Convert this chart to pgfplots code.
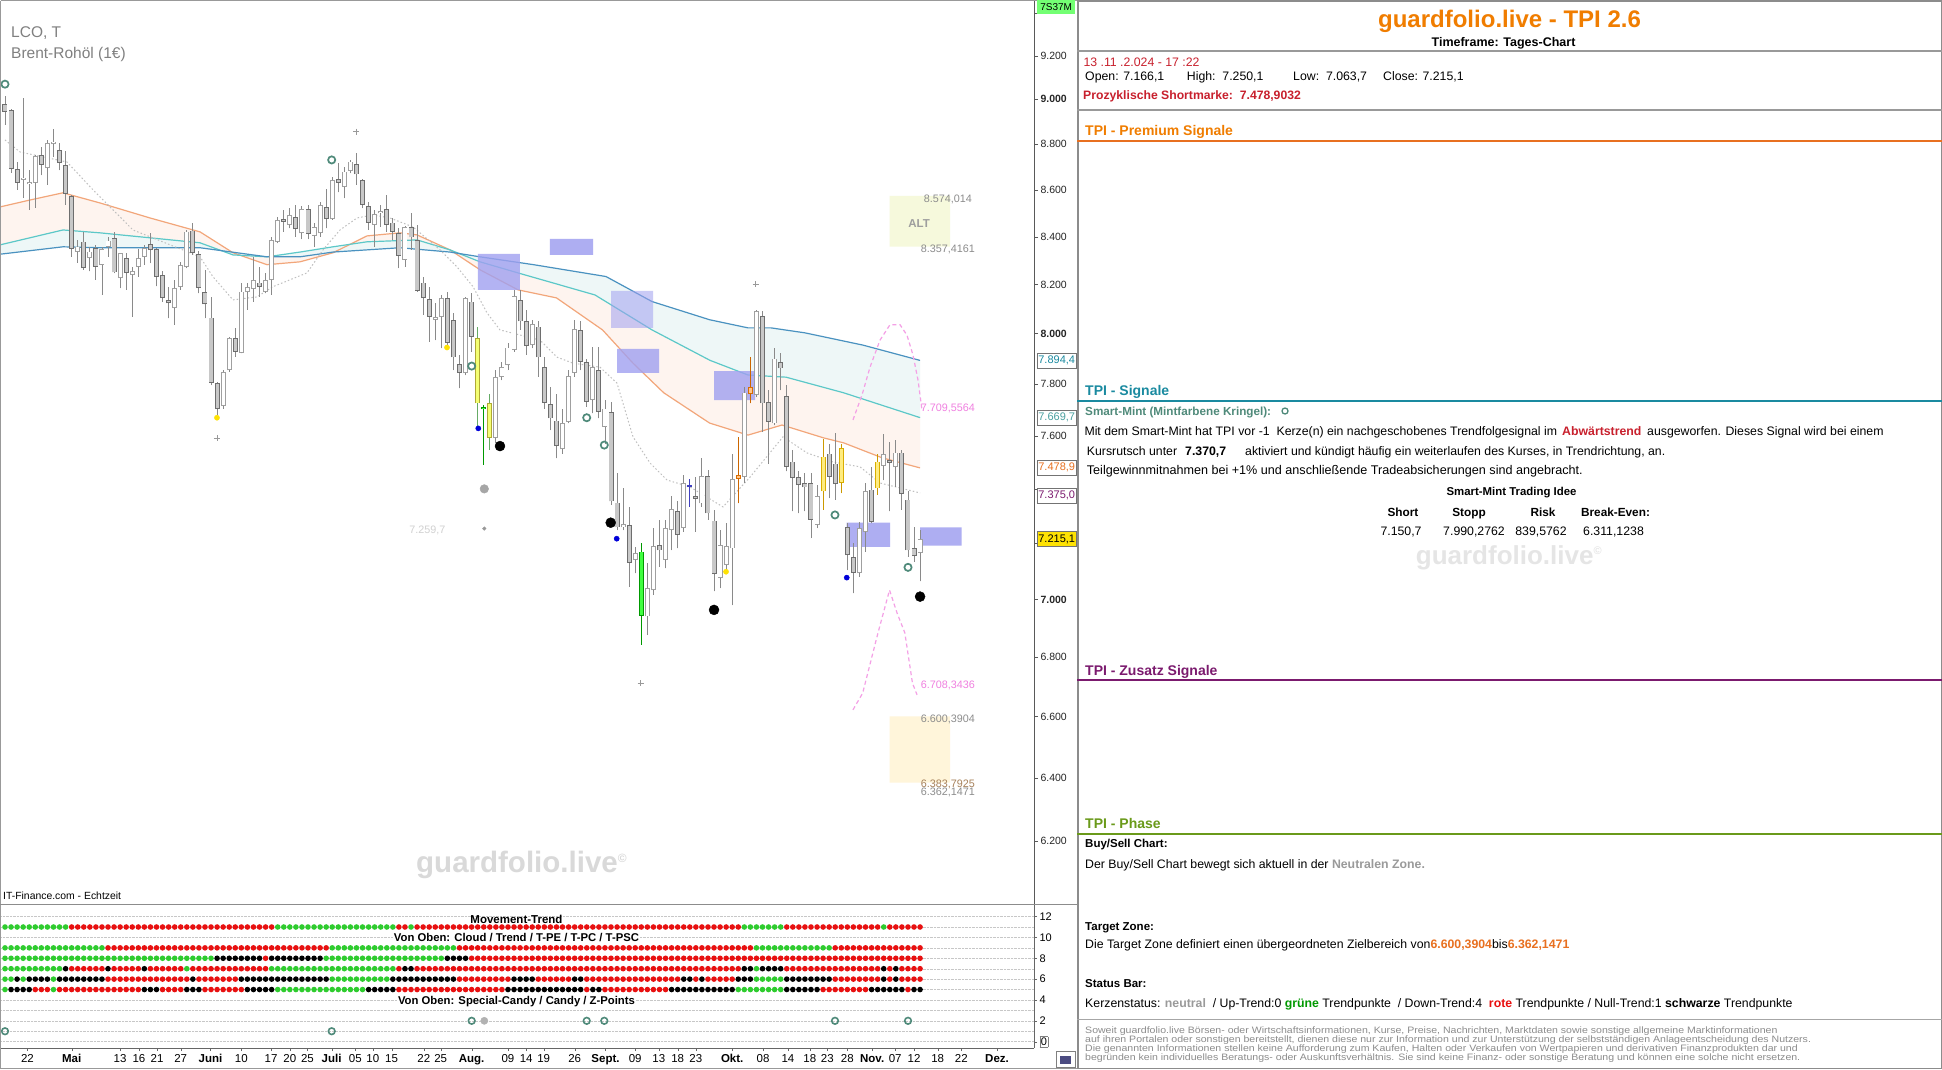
\documentclass[border=0pt]{standalone}
\usepackage{fontspec}
\setmainfont{Liberation Sans}
\usepackage{graphicx}
\usepackage{pgfplots}
\pgfplotsset{compat=1.18}
\usepackage{pgfplotstable}
\setlength{\fboxsep}{1pt}
\definecolor{cGreen}{HTML}{2ECC2E}
\definecolor{cRed}{HTML}{E81010}
\definecolor{maO}{HTML}{F2A67A}
\definecolor{maT}{HTML}{5CC8C8}
\definecolor{maB}{HTML}{4A92C0}
\definecolor{ofill}{HTML}{FEF4EF}
\definecolor{bfill}{HTML}{EEF7F7}
\definecolor{ring}{HTML}{4F8A7A}
\definecolor{zoneB}{HTML}{A0A0F0}
\definecolor{pinkD}{HTML}{F4A0E6}
\definecolor{pinkT}{HTML}{F080E0}
\definecolor{titleO}{HTML}{F07D00}
\definecolor{secT}{HTML}{1A8AA0}
\definecolor{secP}{HTML}{7B1A6E}
\definecolor{secG}{HTML}{6A9A1A}
\definecolor{redT}{HTML}{C8202D}
\definecolor{orT}{HTML}{E87020}
\definecolor{grT}{HTML}{9A9A9A}
\definecolor{wickG}{HTML}{8A8A8A}
\definecolor{edgeG}{HTML}{6E6E6E}
\definecolor{fillG}{HTML}{C8C8C8}
\definecolor{edgeH}{HTML}{A0A0A0}
\definecolor{altF}{HTML}{F6F9DC}
\definecolor{tzF}{HTML}{FFF5DA}
\newcommand{\fs}[1]{\fontsize{#1}{#1}\selectfont}
\newcommand{\txt}[4][]{\node[anchor=base west, inner sep=0pt, #1] at (#2pt,-#3pt) {#4};}
\newcommand{\ctxt}[4][]{\node[anchor=base, inner sep=0pt, #1] at (#2pt,-#3pt) {#4};}
\newcommand{\disc}[1]{\scalebox{1.135}[1]{\fs{9.3}#1}}

% ---------- candle data: i open high low close ----------
\pgfplotstableread{
i o h l c
0 8.979 9.015 8.885 8.945
1 8.950 8.955 8.673 8.690
2 8.690 8.723 8.600 8.631
6 8.752 8.789 8.664 8.708
9 8.774 8.804 8.686 8.718
10 8.708 8.767 8.535 8.582
11 8.574 8.578 8.316 8.347
13 8.379 8.421 8.261 8.268
15 8.351 8.365 8.219 8.274
18 8.393 8.421 8.247 8.250
20 8.309 8.333 8.178 8.247
24 8.368 8.417 8.289 8.343
25 8.347 8.351 8.192 8.233
26 8.240 8.254 8.130 8.144
27 8.137 8.191 8.062 8.123
31 8.425 8.459 8.323 8.330
32 8.327 8.341 8.164 8.185
33 8.168 8.261 8.062 8.119
34 8.065 8.150 7.797 7.806
35 7.804 7.810 7.680 7.702
38 7.984 8.022 7.908 7.928
42 8.208 8.274 8.150 8.189
46 8.474 8.514 8.421 8.462
48 8.482 8.535 8.400 8.431
50 8.517 8.535 8.389 8.410
53 8.525 8.603 8.435 8.474
55 8.646 8.718 8.589 8.631
58 8.712 8.760 8.621 8.667
59 8.643 8.646 8.521 8.535
60 8.531 8.549 8.428 8.459
63 8.517 8.578 8.421 8.450
64 8.459 8.478 8.386 8.421
65 8.414 8.435 8.268 8.319
67 8.440 8.500 8.344 8.397
68 8.386 8.450 8.171 8.175
69 8.208 8.233 8.076 8.144
70 8.140 8.191 7.968 8.069
73 8.144 8.171 7.942 7.964
74 8.056 8.083 7.856 7.906
75 7.879 7.915 7.784 7.845
77 8.130 8.164 7.928 7.988
85 8.137 8.178 8.015 8.049
86 8.049 8.096 7.915 7.951
88 8.028 8.049 7.829 7.906
89 7.869 7.908 7.706 7.728
90 7.722 7.790 7.622 7.667
91 7.658 7.764 7.515 7.561
95 8.015 8.049 7.856 7.888
96 7.886 7.901 7.712 7.732
98 7.856 7.948 7.667 7.693
100 7.693 7.731 7.341 7.353
101 7.349 7.458 7.248 7.258
103 7.267 7.334 7.045 7.131
108 7.194 7.285 7.116 7.174
111 7.316 7.353 7.182 7.231
114 7.375 7.446 7.242 7.364
116 7.448 7.470 7.285 7.309
117 7.283 7.322 7.028 7.090
125 8.072 8.090 7.616 7.725
126 7.731 7.777 7.495 7.654
128 7.888 7.922 7.777 7.862
129 7.754 7.797 7.465 7.483
130 7.502 7.546 7.316 7.440
131 7.443 7.465 7.310 7.414
132 7.421 7.458 7.316 7.406
133 7.421 7.461 7.219 7.285
136 7.533 7.571 7.366 7.446
137 7.495 7.612 7.359 7.417
139 7.258 7.273 7.104 7.157
140 7.150 7.200 7.022 7.094
143 7.398 7.483 7.273 7.279
146 7.508 7.577 7.316 7.498
148 7.536 7.546 7.322 7.381
149 7.361 7.390 7.152 7.174
150 7.182 7.261 7.134 7.154
}\cF
\pgfplotstableread{
i o h l c
3 8.643 9.006 8.565 8.653
4 8.624 8.686 8.514 8.635
5 8.631 8.752 8.522 8.748
7 8.694 8.818 8.621 8.804
8 8.800 8.866 8.745 8.811
12 8.337 8.386 8.290 8.358
14 8.309 8.358 8.254 8.337
16 8.281 8.358 8.157 8.347
17 8.358 8.400 8.316 8.383
19 8.226 8.332 8.185 8.330
21 8.240 8.274 8.069 8.254
22 8.274 8.347 8.233 8.309
23 8.316 8.365 8.281 8.351
28 8.103 8.219 8.036 8.185
29 8.191 8.295 8.178 8.281
30 8.274 8.428 8.268 8.421
36 7.715 7.856 7.706 7.849
37 7.856 7.988 7.849 7.982
39 7.924 8.206 7.922 8.171
40 8.168 8.208 8.096 8.189
41 8.182 8.316 8.130 8.219
43 8.171 8.247 8.164 8.219
44 8.219 8.400 8.157 8.386
45 8.379 8.485 8.372 8.471
47 8.450 8.521 8.435 8.492
49 8.414 8.528 8.389 8.517
51 8.404 8.457 8.358 8.440
52 8.414 8.549 8.400 8.535
54 8.474 8.657 8.471 8.643
56 8.614 8.701 8.564 8.679
57 8.683 8.730 8.672 8.723
61 8.450 8.514 8.358 8.496
62 8.499 8.535 8.442 8.506
66 8.302 8.446 8.274 8.440
71 8.056 8.123 7.975 8.067
72 8.069 8.157 7.942 8.144
76 7.843 8.150 7.836 8.144
81 7.594 7.858 7.572 7.827
82 7.829 7.888 7.816 7.869
83 7.876 7.962 7.856 7.946
84 7.935 8.178 7.928 8.153
87 7.955 8.056 7.942 8.038
92 7.549 7.706 7.533 7.650
93 7.654 7.856 7.648 7.832
94 7.845 8.056 7.829 8.017
97 7.738 7.948 7.687 7.866
99 7.635 7.738 7.571 7.706
102 7.258 7.402 7.248 7.269
104 7.140 7.188 7.092 7.166
106 6.940 7.128 6.876 7.039
107 7.033 7.255 7.016 7.191
109 7.140 7.285 7.110 7.255
110 7.248 7.372 7.176 7.325
112 7.255 7.452 7.242 7.421
115 7.346 7.515 7.334 7.448
118 7.075 7.248 7.040 7.194
119 7.122 7.273 7.092 7.191
120 7.182 7.533 6.980 7.436
122 7.445 7.790 7.421 7.767
124 7.758 8.096 7.751 8.090
127 7.648 7.942 7.641 7.901
134 7.267 7.414 7.255 7.372
141 7.092 7.279 7.080 7.255
142 7.242 7.421 7.170 7.393
145 7.486 7.609 7.433 7.530
147 7.481 7.584 7.408 7.536
151 7.166 7.250 7.064 7.215
}\cH
\pgfplotstableread{
i o h l c
78 7.982 8.028 7.635 7.725
80 7.725 7.764 7.547 7.594
}\cYG
\pgfplotstableread{
i o h l c
79 7.710 7.720 7.490 7.703
105 7.170 7.200 6.842 6.942
}\cG
\pgfplotstableread{
i o h l c
121 7.439 7.597 7.346 7.452
123 7.764 7.908 7.725 7.790
}\cO
\pgfplotstableread{
i o h l c
135 7.390 7.590 7.322 7.521
138 7.422 7.571 7.384 7.552
144 7.402 7.533 7.378 7.502
}\cY
\pgfplotstableread{
i o h l c
113 7.406 7.439 7.334 7.410
}\cB
% ---------- moving averages ----------
\pgfplotstableread{
x y
-0.83 8.326
9.57 8.357
15.68 8.353
32.18 8.353
43.23 8.315
48.68 8.315
54.13 8.335
65.18 8.353
73.43 8.335
78.38 8.315
87.23 8.282
99.17 8.233
106.77 8.130
116.27 8.056
122.61 8.023
126.4 8.023
132.01 8.003
141.58 7.955
151 7.894
}\maBlue
\pgfplotstableread{
x y
-0.83 8.365
9.57 8.428
15.68 8.416
23.93 8.395
32.18 8.374
37.62 8.323
43.23 8.315
48.68 8.335
54.13 8.357
59.74 8.378
67.99 8.386
73.43 8.344
78.38 8.294
84.65 8.248
97.36 8.157
106.77 8.015
116.34 7.895
122.61 7.836
128.88 7.828
138.38 7.766
151 7.670
}\maTeal
\pgfplotstableread{
x y
-0.83 8.526
4.13 8.556
9.57 8.587
15.68 8.543
23.93 8.479
32.18 8.420
37.62 8.332
43.23 8.282
48.68 8.294
54.13 8.332
59.74 8.403
65.18 8.416
67.99 8.407
73.43 8.344
78.38 8.261
84.65 8.178
91.0 8.145
98.6 8.015
103.63 7.883
108.7 7.766
116.27 7.649
122.61 7.603
128.22 7.642
135.15 7.592
138.38 7.573
144.72 7.516
151 7.479
}\maOrange
% cloud areas: one line forward, the other line backward
\pgfplotstableread{
x y
-0.83 8.526
4.13 8.556
9.57 8.587
15.68 8.543
23.93 8.479
32.18 8.420
37.62 8.332
43.23 8.282
48.68 8.294
54.13 8.332
59.74 8.403
65.18 8.416
67.99 8.407
73.43 8.344
78.38 8.261
84.65 8.178
91.0 8.145
98.6 8.015
103.63 7.883
108.7 7.766
116.27 7.649
122.61 7.603
128.22 7.642
135.15 7.592
138.38 7.573
144.72 7.516
151 7.479
151 7.670
138.38 7.766
128.88 7.828
122.61 7.836
116.34 7.895
106.77 8.015
97.36 8.157
84.65 8.248
78.38 8.294
73.43 8.344
67.99 8.386
59.74 8.378
54.13 8.357
48.68 8.335
43.23 8.315
37.62 8.323
32.18 8.374
23.93 8.395
15.68 8.416
9.57 8.428
-0.83 8.365
}\cloudOT
\pgfplotstableread{
x y
-0.83 8.365
9.57 8.428
15.68 8.416
23.93 8.395
32.18 8.374
37.62 8.323
43.23 8.315
48.68 8.335
54.13 8.357
59.74 8.378
67.99 8.386
73.43 8.344
78.38 8.294
84.65 8.248
97.36 8.157
106.77 8.015
116.34 7.895
122.61 7.836
128.88 7.828
138.38 7.766
151 7.670
151 7.894
141.58 7.955
132.01 8.003
126.4 8.023
122.61 8.023
116.27 8.056
106.77 8.130
99.17 8.233
87.23 8.282
78.38 8.315
73.43 8.335
65.18 8.353
54.13 8.335
48.68 8.315
43.23 8.315
32.18 8.353
15.68 8.353
9.57 8.357
-0.83 8.326
}\cloudTB
\pgfplotstableread{
x y
0 8.818
2.48 8.765
10.23 8.721
14.52 8.600
17.33 8.526
21.12 8.428
32.18 8.315
34.32 8.232
37.62 8.137
41.58 8.149
44.22 8.191
49.83 8.248
52.48 8.344
55.28 8.428
58.09 8.479
60.73 8.492
63.53 8.479
67.33 8.441
71.78 8.344
74.59 8.273
77.23 8.191
79.54 8.084
81.68 8.015
88.28 7.975
91.09 7.907
93.73 7.883
98.18 7.868
100.99 7.805
103.63 7.596
106.44 7.497
109.24 7.433
113.04 7.407
118.48 7.333
122.94 7.444
128.38 7.596
132.34 7.535
136.63 7.501
141.09 7.482
144.39 7.422
151 7.385
}\sigL
\pgfplotstableread{
x y
139.93 7.661
141.42 7.758
142.74 7.868
144.39 7.975
146.04 8.036
147.69 8.036
148.84 7.995
149.83 7.915
150.66 7.816
151.32 7.699
}\pkU
\pgfplotstableread{
x y
139.93 6.622
141.53 6.678
144.06 6.883
145.96 7.033
147.19 6.953
148.48 6.883
149.75 6.711
150.5 6.672
}\pkL

\pgfplotsset{candlebase/.style={forget plot, only marks, mark=*, mark size=0pt, mark options={draw=none, fill=none}}}
\newcommand{\candles}[4]{%
\addplot[candlebase, error bars/.cd, y dir=plus, y explicit, error mark=none,
  error bar style={draw=#2, line width=0.9pt}]
  table[x=i, y=l, y error plus expr={\thisrow{h}-\thisrow{l}}] {#1};
\addplot[candlebase, error bars/.cd, y dir=plus, y explicit, error mark=none,
  error bar style={draw=#3, line width=5pt}]
  table[x=i, y expr={min(\thisrow{o},\thisrow{c})}, y error plus expr={max(abs(\thisrow{o}-\thisrow{c}),0.008)}] {#1};
\addplot[candlebase, error bars/.cd, y dir=plus, y explicit, error mark=none,
  error bar style={draw=#4, line width=3.2pt, shorten <=0.8pt, shorten >=0.8pt}]
  table[x=i, y expr={min(\thisrow{o},\thisrow{c})}, y error plus expr={max(abs(\thisrow{o}-\thisrow{c}),0.008)}] {#1};
}
\pgfplotsset{dotrow/.style={forget plot, mark=none, line width=5.6pt, line cap=round,
  dash pattern=on 0pt off 6.0601pt, unbounded coords=jump}}

\begin{document}
\begin{tikzpicture}
\useasboundingbox (0pt,0pt) rectangle (1942pt,-1069pt);
\fill[white] (0pt,0pt) rectangle (1942pt,-1069pt);

% ================= PRICE AXIS =================
\begin{axis}[
  at={(0pt,-904pt)}, anchor=south west, scale only axis,
  width=1034pt, height=904pt,
  xmin=-0.825, xmax=169.8, ymode=log, ymin=6.006, ymax=9.461,
  hide x axis, axis y line*=right,
  y axis line style={draw=black!65, line width=0.8pt},
  ytick={6.2,6.4,6.6,6.8,7.0,7.2,7.4,7.6,7.8,8.0,8.2,8.4,8.6,8.8,9.0,9.2,9.4},
  yticklabels={6.200,6.400,6.600,6.800,\textbf{7.000},{},{},7.600,7.800,\textbf{8.000},8.200,8.400,8.600,8.800,\textbf{9.000},9.200,{}},
  tick align=outside, major tick length=4pt,
  ytick style={draw=black!65},
  yticklabel style={font=\fs{10.5}, text=black!85, xshift=-1pt},
  clip=false,
]
% zones
\addplot[forget plot, draw=none, fill=altF] coordinates {(145.96,8.574)(155.94,8.574)(155.94,8.3574)(145.96,8.3574)(145.96,8.574)};
\addplot[forget plot, draw=none, fill=tzF] coordinates {(145.96,6.6004)(155.94,6.6004)(155.94,6.3838)(145.96,6.3838)(145.96,6.6004)};
% MA clouds
\addplot[forget plot, draw=none, fill=ofill] table {\cloudOT};
\addplot[forget plot, draw=none, fill=bfill] table {\cloudTB};
\addplot[forget plot, maO, line width=1.2pt, mark=none] table {\maOrange};
\addplot[forget plot, maT, line width=1.2pt, mark=none] table {\maTeal};
\addplot[forget plot, maB, line width=1.2pt, mark=none] table {\maBlue};
\addplot[forget plot, black!25, line width=1pt, dash pattern=on 1.5pt off 2.2pt, mark=none] table {\sigL};
% blue zones
\addplot[forget plot, draw=none, fill=zoneB, fill opacity=0.8] coordinates {(78.05,8.3274)(84.98,8.3274)(84.98,8.1779)(78.05,8.1779)(78.05,8.3274)};
\addplot[forget plot, draw=none, fill=zoneB, fill opacity=0.85] coordinates {(89.93,8.3903)(97.03,8.3903)(97.03,8.3232)(89.93,8.3232)(89.93,8.3903)};
\addplot[forget plot, draw=none, fill=zoneB, fill opacity=0.55] coordinates {(100.0,8.1738)(106.93,8.1738)(106.93,8.0234)(100.0,8.0234)(100.0,8.1738)};
\addplot[forget plot, draw=none, fill=zoneB, fill opacity=0.8] coordinates {(100.99,7.9390)(107.92,7.9390)(107.92,7.8439)(100.99,7.8439)(100.99,7.9390)};
\addplot[forget plot, draw=none, fill=zoneB, fill opacity=0.8] coordinates {(117.0,7.8518)(123.76,7.8518)(123.76,7.7381)(117.0,7.7381)(117.0,7.8518)};
\addplot[forget plot, draw=none, fill=zoneB, fill opacity=0.85] coordinates {(138.89,7.2753)(146.04,7.2753)(146.04,7.1881)(138.89,7.1881)(138.89,7.2753)};
\addplot[forget plot, draw=none, fill=zoneB, fill opacity=0.85] coordinates {(150.99,7.2586)(157.87,7.2586)(157.87,7.1917)(150.99,7.1917)(150.99,7.2586)};
% candles
\candles{\cF}{wickG}{edgeG}{fillG}
\candles{\cH}{wickG}{edgeH}{white}
\candles{\cYG}{green!45!black!60}{olive!70}{lime!30!yellow!55!white}
\candles{\cG}{green!60!black}{green!60!black}{green!75!white}
\candles{\cO}{orange!80!black}{orange!85!black}{orange!45!white}
\candles{\cY}{orange!50!yellow!80!black}{orange!40!yellow!85!black}{orange!30!yellow!50!white}
\candles{\cB}{blue!50!gray}{blue!50!gray}{blue!50!gray}
% forecast
\addplot[forget plot, pinkD, line width=1.2pt, dash pattern=on 4pt off 3pt, mark=none] table {\pkU};
\addplot[forget plot, pinkD, line width=1.2pt, dash pattern=on 4pt off 3pt, mark=none] table {\pkL};
% markers
\addplot[forget plot, only marks, mark=o, mark size=3.6pt, mark options={draw=ring, line width=1.7pt}] coordinates {(0,9.069)(53.91,8.730)(77.01,7.8715)(95.99,7.6696)(98.89,7.5651)(136.96,7.3036)(149.01,7.1141)};
\addplot[forget plot, only marks, mark=*, mark size=5pt, black] coordinates {(81.68,7.5613)(99.95,7.2753)(117.0,6.9630)(151,7.0097)};
\addplot[forget plot, only marks, mark=*, mark size=2.6pt, mark options={fill=blue!85!black, draw=blue!85!black}] coordinates {(78.1,7.6289)(100.94,7.2170)(138.9,7.0769)};
\addplot[forget plot, only marks, mark=*, mark size=2.6pt, mark options={fill=yellow!85!orange, draw=yellow!85!orange}] coordinates {(34.98,7.6696)(72.94,7.9459)(118.98,7.0984)};
\addplot[forget plot, only marks, mark=*, mark size=4.3pt, mark options={fill=black!35, draw=black!35}] coordinates {(79.09,7.3997)};
\addplot[forget plot, only marks, mark=*, mark size=1.8pt, mark options={fill=black!40, draw=black!40}] coordinates {(79.09,7.2542)};
\addplot[forget plot, only marks, mark=+, mark size=3pt, mark options={draw=black!40, line width=0.8pt}] coordinates {(34.98,7.5906)(57.92,8.8553)(123.86,8.2015)(104.9,6.7109)};
% chart labels
\node[font=\fs{10.8}, text=black!18] at (axis cs:69.7,7.2487) {7.259,7};
\node[font=\fs{11.5}, text=black!38] at (axis cs:150.83,8.4539) {\textbf{ALT}};
\node[font=\fs{10.8}, text=black!45] at (axis cs:155.6,8.5594) {8.574,014};
\node[font=\fs{10.8}, text=black!45] at (axis cs:155.6,8.344) {8.357,4161};
\node[font=\fs{10.8}, text=pinkT] at (axis cs:155.6,7.7044) {7.709,5564};
\node[font=\fs{10.8}, text=pinkT] at (axis cs:155.6,6.7018) {6.708,3436};
\node[font=\fs{10.8}, text=black!45] at (axis cs:155.6,6.5905) {6.600,3904};
\node[font=\fs{10.8}, text=brown!60!gray] at (axis cs:155.6,6.3769) {6.383,7925};
\node[font=\fs{10.8}, text=black!45] at (axis cs:155.6,6.3521) {6.362,1471};
% right value boxes
\node[draw=black!55, fill=white, anchor=west, xshift=3pt, minimum width=39pt, minimum height=15pt, inner sep=1pt, font=\fs{11}, text=secT] at (axis cs:169.8,7.8944) {7.894,4};
\node[draw=black!55, fill=white, anchor=west, xshift=3pt, minimum width=39pt, minimum height=15pt, inner sep=1pt, font=\fs{11}, text=maT!80!black] at (axis cs:169.8,7.6697) {7.669,7};
\node[draw=black!55, fill=white, anchor=west, xshift=3pt, minimum width=39pt, minimum height=15pt, inner sep=1pt, font=\fs{11}, text=orT] at (axis cs:169.8,7.4789) {7.478,9};
\node[draw=black!55, fill=white, anchor=west, xshift=3pt, minimum width=39pt, minimum height=15pt, inner sep=1pt, font=\fs{11}, text=secP] at (axis cs:169.8,7.3750) {7.375,0};
\node[draw=black!55, fill=yellow!85!orange, anchor=west, xshift=3pt, minimum width=39pt, minimum height=15pt, inner sep=1pt, font=\fs{11}] at (axis cs:169.8,7.2151) {7.215,1};
\end{axis}

% ================= MOVEMENT PANEL =================
\begin{axis}[
  at={(0pt,-1048pt)}, anchor=south west, scale only axis,
  width=1034pt, height=143pt,
  xmin=-0.825, xmax=169.8, ymin=-0.61, ymax=13.11,
  axis y line*=right, axis x line*=bottom,
  axis line style={draw=black!60, line width=0.8pt},
  ytick={0,2,4,6,8,10,12},
  yticklabels={\fcolorbox{black!50}{white}{0},2,4,6,8,10,12},
  minor y tick num=1, minor tick length=0pt,
  ymajorgrids, yminorgrids, grid style={black!22, densely dotted},
  xtick={3.7,11,19,22.1,25.1,29,33.9,39,43.9,47,49.9,53.9,57.8,60.7,63.8,69.1,71.9,77,83,86,88.9,94,99.1,104,107.9,111,114,120,125.1,129.2,132.8,135.7,139,143.1,146.9,150,153.9,157.8,163.7},
  xticklabels={22,\textbf{Mai},13,16,21,27,\textbf{Juni},10,17,20,25,\textbf{Juli},05,10,15,22,25,\textbf{Aug.},09,14,19,26,\textbf{Sept.},09,13,18,23,\textbf{Okt.},08,14,18,23,28,\textbf{Nov.},07,12,18,22,\textbf{Dez.}},
  tick align=outside, major tick length=3pt, tick style={draw=black!60},
  xticklabel style={font=\fs{11.5}},
  yticklabel style={font=\fs{11}, xshift=-1pt},
  clip=false,
]
% Movement-Trend row (11)
\addplot[dotrow, cGreen] coordinates {(0,11)(10.05,11)(nan,nan)(45,11)(64.05,11)(nan,nan)(67,11)(67.05,11)(nan,nan)(122,11)(128.05,11)(nan,nan)(145,11)(145.05,11)};
\addplot[dotrow, cRed] coordinates {(11,11)(44.05,11)(nan,nan)(65,11)(66.05,11)(nan,nan)(68,11)(121.05,11)(nan,nan)(129,11)(144.05,11)(nan,nan)(146,11)(151.05,11)};
% Cloud row (9)
\addplot[dotrow, cGreen] coordinates {(0,9)(16.05,9)(nan,nan)(54,9)(74.05,9)(nan,nan)(124,9)(136.05,9)};
\addplot[dotrow, cRed] coordinates {(17,9)(53.05,9)(nan,nan)(75,9)(123.05,9)(nan,nan)(137,9)(151.05,9)};
% Trend row (8)
\addplot[dotrow, cGreen] coordinates {(0,8)(34.05,8)(nan,nan)(53,8)(72.05,8)};
\addplot[dotrow, black] coordinates {(35,8)(42.05,8)(nan,nan)(44,8)(52.05,8)(nan,nan)(73,8)(76.05,8)};
\addplot[dotrow, cRed] coordinates {(43,8)(43.05,8)(nan,nan)(77,8)(151.05,8)};
% T-PE row (7)
\addplot[dotrow, cGreen] coordinates {(0,7)(9.05,7)(nan,nan)(30,7)(30.05,7)(nan,nan)(44,7)(64.05,7)(nan,nan)(124,7)(124.05,7)};
\addplot[dotrow, black] coordinates {(10,7)(10.05,7)(nan,nan)(17,7)(17.05,7)(nan,nan)(23,7)(23.05,7)(nan,nan)(66,7)(67.05,7)(nan,nan)(122,7)(123.05,7)(nan,nan)(125,7)(128.05,7)(nan,nan)(145,7)(145.05,7)(nan,nan)(147,7)(147.05,7)};
\addplot[dotrow, cRed] coordinates {(11,7)(16.05,7)(nan,nan)(18,7)(22.05,7)(nan,nan)(24,7)(29.05,7)(nan,nan)(31,7)(43.05,7)(nan,nan)(65,7)(65.05,7)(nan,nan)(68,7)(121.05,7)(nan,nan)(129,7)(144.05,7)(nan,nan)(146,7)(146.05,7)(nan,nan)(148,7)(151.05,7)};
% T-PC row (6)
\addplot[dotrow, cGreen] coordinates {(0,6)(1.05,6)(nan,nan)(3,6)(3.05,6)(nan,nan)(8,6)(8.05,6)(nan,nan)(54,6)(63.05,6)(nan,nan)(124,6)(128.05,6)};
\addplot[dotrow, black] coordinates {(2,6)(2.05,6)(nan,nan)(4,6)(7.05,6)(nan,nan)(9,6)(16.05,6)(nan,nan)(31,6)(31.05,6)(nan,nan)(39,6)(53.05,6)(nan,nan)(64,6)(74.05,6)(nan,nan)(84,6)(87.05,6)(nan,nan)(94,6)(95.05,6)(nan,nan)(112,6)(113.05,6)(nan,nan)(115,6)(115.05,6)(nan,nan)(121,6)(123.05,6)(nan,nan)(129,6)(136.05,6)(nan,nan)(145,6)(145.05,6)(nan,nan)(147,6)(147.05,6)};
\addplot[dotrow, cRed] coordinates {(17,6)(30.05,6)(nan,nan)(32,6)(38.05,6)(nan,nan)(75,6)(83.05,6)(nan,nan)(88,6)(93.05,6)(nan,nan)(96,6)(111.05,6)(nan,nan)(114,6)(114.05,6)(nan,nan)(116,6)(120.05,6)(nan,nan)(137,6)(144.05,6)(nan,nan)(146,6)(146.05,6)(nan,nan)(148,6)(151.05,6)};
% T-PSC row (5)
\addplot[dotrow, cGreen] coordinates {(0,5)(0.05,5)(nan,nan)(8,5)(8.05,5)(nan,nan)(45,5)(59.05,5)(nan,nan)(121,5)(128.05,5)};
\addplot[dotrow, black] coordinates {(1,5)(4.05,5)(nan,nan)(23,5)(25.05,5)(nan,nan)(30,5)(32.05,5)(nan,nan)(40,5)(44.05,5)(nan,nan)(60,5)(64.05,5)(nan,nan)(83,5)(95.05,5)(nan,nan)(97,5)(98.05,5)(nan,nan)(110,5)(120.05,5)(nan,nan)(129,5)(134.05,5)(nan,nan)(143,5)(148.05,5)(nan,nan)(150,5)(151.05,5)};
\addplot[dotrow, cRed] coordinates {(5,5)(7.05,5)(nan,nan)(9,5)(22.05,5)(nan,nan)(26,5)(29.05,5)(nan,nan)(33,5)(39.05,5)(nan,nan)(65,5)(82.05,5)(nan,nan)(96,5)(96.05,5)(nan,nan)(99,5)(109.05,5)(nan,nan)(135,5)(142.05,5)(nan,nan)(149,5)(149.05,5)};
% circles
\addplot[forget plot, only marks, mark=o, mark size=3.3pt, mark options={draw=ring, line width=1.6pt}] coordinates {(77.01,2)(95.99,2)(98.89,2)(136.96,2)(149.01,2)(0,1)(53.91,1)};
\addplot[forget plot, only marks, mark=*, mark size=3.6pt, mark options={fill=black!30, draw=black!30}] coordinates {(79.09,2)};
\node[font=\bfseries\fs{11.5}] at (axis cs:84.4,11.75) {Movement-Trend};
\node[font=\bfseries\fs{11.3}, fill=white, inner sep=1pt] at (axis cs:84.4,9.95) {Von Oben: Cloud / Trend / T-PE / T-PC / T-PSC};
\node[font=\bfseries\fs{11.3}, fill=white, inner sep=1pt] at (axis cs:84.4,3.85) {Von Oben: Special-Candy / Candy / Z-Points};
\end{axis}

% ================= frames & left texts =================
\draw[black!40, line width=1pt] (0.5pt,-0.5pt) -- (1077pt,-0.5pt);
\draw[black!40, line width=1pt] (0.5pt,-0.5pt) -- (0.5pt,-1068.5pt) -- (1077pt,-1068.5pt);
\draw[black!45, line width=1pt] (0pt,-904.5pt) -- (1077pt,-904.5pt);
\node[fill=green!55!white, anchor=north west, minimum width=38pt, minimum height=14pt, inner sep=1pt, font=\fs{10}] at (1037pt,0pt) {7S37M};
\txt[text=black!50, font=\fs{15.5}]{11}{37}{LCO, T}
\txt[text=black!50, font=\fs{15.5}]{11}{58}{Brent-Rohöl (1€)}
\txt[text=black!15, font=\bfseries\fs{29.5}]{416}{872}{guardfolio.live\textsuperscript{\fs{12}©}}
\txt[font=\fs{10.4}]{3}{899}{IT-Finance.com - Echtzeit}
\draw[black!50] (1056pt,-1051pt) rectangle (1075pt,-1067pt);
\fill[blue!30!black!70] (1060pt,-1056pt) rectangle (1071pt,-1064pt);

% ================= RIGHT PANEL =================
\draw[black!45, line width=1.5pt] (1077.75pt,-0.75pt) rectangle (1941.25pt,-1068.25pt);
\ctxt[text=titleO, font=\bfseries\fs{24}]{1509.5}{27}{guardfolio.live - TPI 2.6}
\ctxt[font=\bfseries\fs{12.5}]{1503.5}{46.5}{Timeframe: Tages-Chart}
\draw[black!40, line width=1.2pt] (1077pt,-51pt) -- (1942pt,-51pt);
\txt[text=redT, font=\fs{12.3}]{1083.3}{66}{13 .11 .2.024 - 17 :22}
\txt[font=\fs{12.3}]{1085}{80.3}{Open: 7.166,1}
\txt[font=\fs{12.3}]{1186.7}{80.3}{High:\ \ 7.250,1}
\txt[font=\fs{12.3}]{1293}{80.3}{Low:\ \ 7.063,7}
\txt[font=\fs{12.3}]{1383}{80.3}{Close: 7.215,1}
\txt[text=redT, font=\bfseries\fs{12.2}]{1083}{99}{Prozyklische Shortmarke:\ \ 7.478,9032}
\draw[black!40, line width=1.2pt] (1077pt,-110pt) -- (1942pt,-110pt);
\txt[text=titleO, font=\bfseries\fs{14}]{1085}{135.5}{TPI - Premium Signale}
\draw[orT, line width=2pt] (1077pt,-141pt) -- (1942pt,-141pt);
\txt[text=secT, font=\bfseries\fs{14}]{1085}{395.5}{TPI - Signale}
\draw[secT, line width=2pt] (1077pt,-400.7pt) -- (1942pt,-400.7pt);
\txt[text=ring, font=\bfseries\fs{11.7}]{1085}{415}{Smart-Mint (Mintfarbene Kringel):}
\draw[ring, line width=1.3pt] (1285pt,-411pt) circle (3pt);
\txt[font=\fs{12.3}]{1084.3}{435.5}{Mit dem Smart-Mint hat TPI vor -1\ \ Kerze(n) ein nachgeschobenes Trendfolgesignal im}
\txt[text=redT, font=\bfseries\fs{12.3}]{1562}{435.5}{Abwärtstrend}
\txt[font=\fs{12.3}]{1647}{435.5}{ausgeworfen. Dieses Signal wird bei einem}
\txt[font=\fs{12.3}]{1086.7}{455}{Kursrutsch unter}
\txt[font=\bfseries\fs{12.3}]{1185}{455}{7.370,7}
\txt[font=\fs{12.3}]{1245}{455}{aktiviert und kündigt häufig ein weiterlaufen des Kurses, in Trendrichtung, an.}
\txt[font=\fs{12.6}]{1086.7}{474.5}{Teilgewinnmitnahmen bei +1\% und anschließende Tradeabsicherungen sind angebracht.}
\ctxt[text=black!10, font=\bfseries\fs{26}]{1509}{564}{guardfolio.live\textsuperscript{\fs{11}©}}
\ctxt[font=\bfseries\fs{11.4}]{1511.5}{495}{Smart-Mint Trading Idee}
\ctxt[font=\bfseries\fs{11.8}]{1403}{516}{Short}
\ctxt[font=\bfseries\fs{11.8}]{1469}{516}{Stopp}
\ctxt[font=\bfseries\fs{11.8}]{1543}{516}{Risk}
\ctxt[font=\bfseries\fs{11.8}]{1615.5}{516}{Break-Even:}
\ctxt[font=\fs{12.3}]{1401}{535}{7.150,7}
\ctxt[font=\fs{12.3}]{1474}{535}{7.990,2762}
\ctxt[font=\fs{12.3}]{1541}{535}{839,5762}
\ctxt[font=\fs{12.3}]{1613.5}{535}{6.311,1238}
\txt[text=secP, font=\bfseries\fs{14}]{1085}{675}{TPI - Zusatz Signale}
\draw[secP, line width=2pt] (1077pt,-680pt) -- (1942pt,-680pt);
\txt[text=secG, font=\bfseries\fs{14}]{1085}{828}{TPI - Phase}
\draw[secG, line width=2pt] (1077pt,-834pt) -- (1942pt,-834pt);
\txt[font=\bfseries\fs{11.5}]{1085}{847.5}{Buy/Sell Chart:}
\txt[font=\fs{12.3}]{1085}{868.5}{Der Buy/Sell Chart bewegt sich aktuell in der \textcolor{grT}{\textbf{Neutralen Zone.}}}
\txt[font=\bfseries\fs{11.5}]{1085}{930}{Target Zone:}
\txt[font=\fs{12.3}]{1085}{948.5}{Die Target Zone definiert einen übergeordneten Zielbereich von\textcolor{orT}{\textbf{6.600,3904}}bis\textcolor{orT}{\textbf{6.362,1471}}}
\txt[font=\bfseries\fs{11.5}]{1085}{987}{Status Bar:}
\txt[font=\fs{12.3}]{1085}{1007}{Kerzenstatus: \textcolor{grT}{\textbf{neutral}}\ \ / Up-Trend:0 \textcolor{green!60!black}{\textbf{grüne}} Trendpunkte\ \ / Down-Trend:4\ \ \textcolor{cRed}{\textbf{rote}} Trendpunkte / Null-Trend:1 \textbf{schwarze} Trendpunkte}
\draw[black!35, line width=1.2pt] (1077pt,-1019.5pt) -- (1942pt,-1019.5pt);
\txt[text=black!45]{1085}{1033.3}{\disc{Soweit guardfolio.live Börsen- oder Wirtschaftsinformationen, Kurse, Preise, Nachrichten, Marktdaten sowie sonstige allgemeine Marktinformationen}}
\txt[text=black!45]{1085}{1042.4}{\disc{auf ihren Portalen oder sonstigen bereitstellt, dienen diese nur zur Information und zur Unterstützung der selbstständigen Anlageentscheidung des Nutzers.}}
\txt[text=black!45]{1085}{1051.6}{\disc{Die genannten Informationen stellen keine Aufforderung zum Kaufen, Halten oder Verkaufen von Wertpapieren und derivativen Finanzprodukten dar und}}
\txt[text=black!45]{1085}{1060.7}{\disc{begründen kein individuelles Beratungs- oder Auskunftsverhältnis. Sie sind keine Finanz- oder sonstige Beratung und können eine solche nicht ersetzen.}}
\end{tikzpicture}
\end{document}
